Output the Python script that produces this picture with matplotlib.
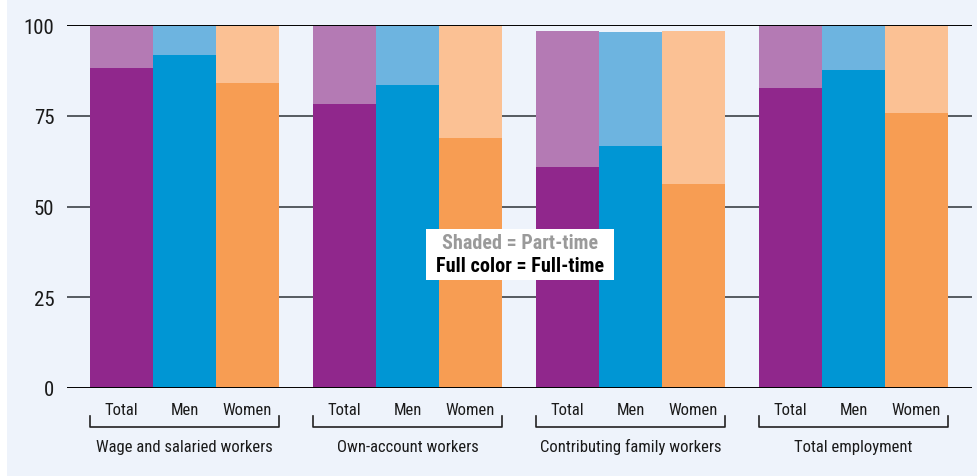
import numpy as np
import matplotlib
matplotlib.use('Agg')
import matplotlib.pyplot as plt
from matplotlib.patches import Rectangle

plt.rcParams['font.family'] = ['Roboto Condensed', 'PT Sans Narrow',
                               'IBM Plex Sans Condensed', 'DejaVu Sans']

groups = ['Wage and salaried workers', 'Own-account workers',
          'Contributing family workers', 'Total employment']
sexes = ['Total', 'Men', 'Women']

# full-time share and total (full + part-time) share, per group: Total, Men, Women
full_time = [
    [88.2, 91.7, 84.0],
    [78.2, 83.5, 68.9],
    [60.9, 66.7, 56.2],
    [82.6, 87.6, 75.8],
]
all_time = [
    [100.0, 100.0, 100.0],
    [100.0, 100.0, 100.0],
    [98.3, 98.1, 98.3],
    [100.0, 100.0, 100.0],
]

full_colors = ['#90278c', '#0096d4', '#f79d53']
part_colors = ['#b47ab4', '#6db4e0', '#fbc194']
bg = '#eef3fb'

fig = plt.figure(figsize=(9.77, 4.77), dpi=100)
fig.patches.append(Rectangle((7 / 977, 0), 1, 1, transform=fig.transFigure,
                             facecolor=bg, edgecolor='none', zorder=-10))

W, H = 977, 477
ax = fig.add_axes([67 / W, (H - 389) / H, (972 - 67) / W, (389 - 26) / H])
ax.set_facecolor('none')

gap = 34 / 63
for g in range(len(groups)):
    for i in range(3):
        x = g * (3 + gap) + i
        ft = full_time[g][i]
        pt = all_time[g][i] - ft
        ax.bar(x, ft, width=1.0, color=full_colors[i], zorder=3)
        ax.bar(x, pt, bottom=ft, width=1.0, color=part_colors[i], zorder=3)

for y in [25, 50, 75]:
    ax.axhline(y, color='#555a60', lw=1.4, zorder=1)
for y in [0, 100]:
    ax.axhline(y, color='black', lw=1.4, zorder=4)

ax.set_xlim(-0.865, -0.865 + 905 / 63)
ax.set_ylim(0, 100)
for s in ax.spines.values():
    s.set_visible(False)
ax.set_xticks([])
ax.set_yticks([0, 25, 50, 75, 100])
ax.tick_params(axis='y', length=0, pad=9, labelsize=15, labelcolor='#1a1a1a')

trans = ax.get_xaxis_transform()
for g, name in enumerate(groups):
    x0 = g * (3 + gap)
    for i, s in enumerate(sexes):
        ax.text(x0 + i, -0.058, s, transform=trans, ha='center', va='center',
                fontsize=12, color='#1a1a1a', clip_on=False)
    ax.plot([x0 - 0.5, x0 - 0.5, x0 + 2.5, x0 + 2.5], [-0.077, -0.107, -0.107, -0.077],
            transform=trans, color='#222222', lw=1.2, clip_on=False)
    ax.text(x0 + 1, -0.16, name, transform=trans, ha='center', va='center',
            fontsize=12, color='#1a1a1a', clip_on=False)

fig.patches.append(Rectangle((426 / W, (H - 281) / H), 188 / W, 51 / H,
                             transform=fig.transFigure, facecolor='white',
                             edgecolor='none', zorder=5))
fig.text(520 / W, (H - 244) / H, 'Shaded = Part-time', ha='center', va='center',
         fontsize=14.5, fontweight='bold', color='#9a9a9a', zorder=6)
fig.text(520 / W, (H - 267) / H, 'Full color = Full-time', ha='center', va='center',
         fontsize=14.5, fontweight='bold', color='black', zorder=6)

fig.savefig('out.png', dpi=100)
